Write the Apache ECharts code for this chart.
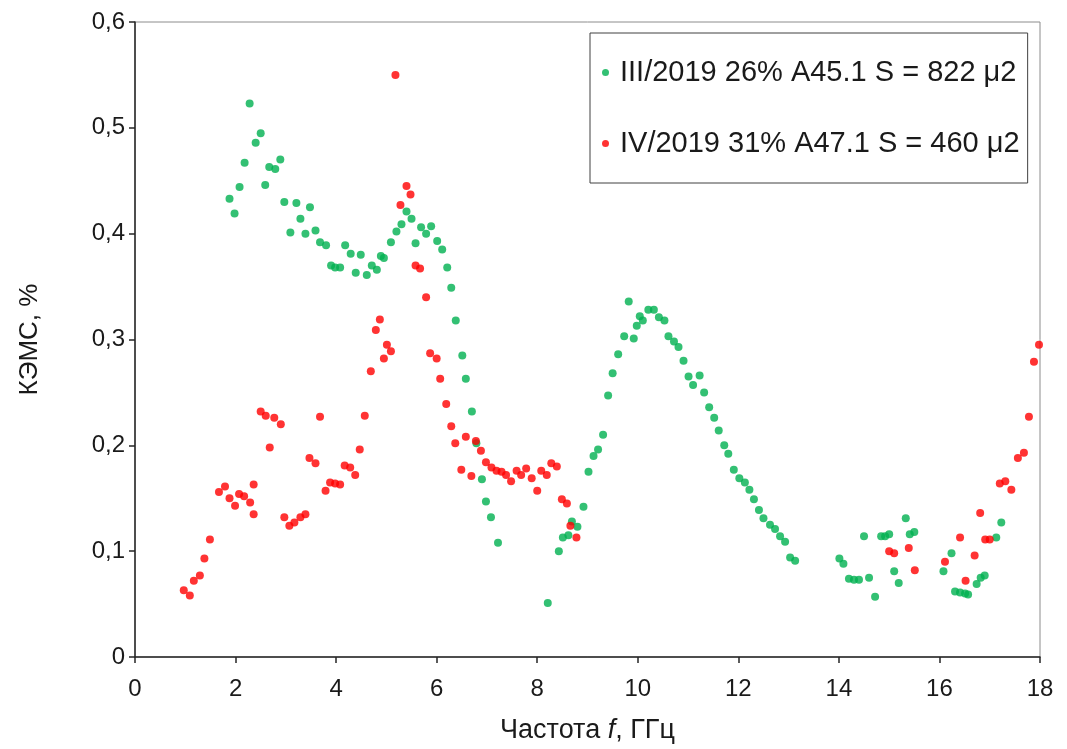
<!DOCTYPE html>
<html>
<head>
<meta charset="utf-8">
<title>КЭМС</title>
<script src="https://cdn.jsdelivr.net/npm/echarts@6/dist/echarts.min.js"></script>
<style>
  html, body { margin: 0; padding: 0; background: #fff; }
  #chart { width: 1067px; height: 749px; }
</style>
</head>
<body>
<div id="chart"></div>
<script>
// frequency, GHz / value, %
let greenX = [1.88, 1.98, 2.08, 2.18, 2.28, 2.40, 2.50, 2.59, 2.67, 2.79, 2.89, 2.97, 3.09, 3.21, 3.29, 3.39, 3.48, 3.59, 3.68, 3.80,
  3.90, 3.98, 4.08, 4.18, 4.29, 4.39, 4.49, 4.61, 4.71, 4.81, 4.89, 4.95, 5.09, 5.20, 5.30, 5.40, 5.50, 5.58, 5.69, 5.79,
  5.89, 6.01, 6.11, 6.21, 6.29, 6.38, 6.51, 6.58, 6.70, 6.79, 6.90, 6.98, 7.08, 7.22, 8.21, 8.43, 8.51, 8.62, 8.69, 8.80,
  8.92, 9.02, 9.12, 9.21, 9.31, 9.41, 9.50, 9.61, 9.73, 9.82, 9.92, 9.98, 10.04, 10.10, 10.21, 10.32, 10.42, 10.53, 10.61, 10.72,
  10.81, 10.91, 11.01, 11.10, 11.23, 11.32, 11.42, 11.52, 11.61, 11.72, 11.80, 11.91, 12.02, 12.13, 12.22, 12.31, 12.41, 12.50, 12.63, 12.73,
  12.83, 12.93, 13.03, 13.13, 14.01, 14.09, 14.20, 14.30, 14.40, 14.50, 14.60, 14.72, 14.84, 14.92, 15.00, 15.10, 15.19, 15.33, 15.41, 15.50,
  16.08, 16.24, 16.31, 16.41, 16.51, 16.57, 16.74, 16.82, 16.90, 17.13, 17.23];
let greenY = [0.433, 0.419, 0.444, 0.467, 0.523, 0.486, 0.495, 0.446, 0.463, 0.461, 0.470, 0.430, 0.401, 0.429, 0.414, 0.400, 0.425, 0.403, 0.392, 0.389,
  0.370, 0.368, 0.368, 0.389, 0.381, 0.363, 0.380, 0.361, 0.370, 0.366, 0.379, 0.377, 0.392, 0.402, 0.409, 0.421, 0.414, 0.391, 0.406, 0.400,
  0.407, 0.393, 0.385, 0.368, 0.349, 0.318, 0.285, 0.263, 0.232, 0.202, 0.168, 0.147, 0.132, 0.108, 0.051, 0.100, 0.113, 0.115, 0.128, 0.123,
  0.142, 0.175, 0.190, 0.196, 0.210, 0.247, 0.268, 0.286, 0.303, 0.336, 0.301, 0.313, 0.322, 0.318, 0.328, 0.328, 0.321, 0.318, 0.303, 0.298,
  0.293, 0.280, 0.265, 0.257, 0.266, 0.250, 0.236, 0.226, 0.214, 0.200, 0.192, 0.177, 0.169, 0.165, 0.158, 0.149, 0.139, 0.131, 0.125, 0.121,
  0.114, 0.109, 0.094, 0.091, 0.093, 0.088, 0.074, 0.073, 0.073, 0.114, 0.075, 0.057, 0.114, 0.114, 0.116, 0.081, 0.070, 0.131, 0.116, 0.118,
  0.081, 0.098, 0.062, 0.061, 0.060, 0.059, 0.069, 0.075, 0.077, 0.113, 0.127];

let redX = [0.97, 1.09, 1.17, 1.29, 1.38, 1.49, 1.67, 1.79, 1.88, 1.99, 2.07, 2.17, 2.29, 2.36, 2.36, 2.50, 2.60, 2.68, 2.77, 2.90,
  2.97, 3.07, 3.17, 3.29, 3.39, 3.47, 3.59, 3.68, 3.79, 3.88, 3.98, 4.08, 4.17, 4.28, 4.38, 4.47, 4.57, 4.69, 4.79, 4.87,
  4.95, 5.01, 5.09, 5.18, 5.28, 5.40, 5.48, 5.58, 5.67, 5.79, 5.87, 6.00, 6.07, 6.19, 6.29, 6.37, 6.49, 6.58, 6.69, 6.78,
  6.88, 6.98, 7.09, 7.19, 7.29, 7.38, 7.48, 7.59, 7.68, 7.78, 7.89, 8.00, 8.08, 8.19, 8.28, 8.39, 8.49, 8.59, 8.66, 8.78,
  15.00, 15.10, 15.39, 15.51, 16.11, 16.41, 16.52, 16.70, 16.81, 16.91, 17.00, 17.20, 17.31, 17.43, 17.56, 17.68, 17.78, 17.88, 17.98];
let redY = [0.063, 0.058, 0.072, 0.077, 0.093, 0.111, 0.156, 0.161, 0.150, 0.143, 0.154, 0.152, 0.146, 0.163, 0.135, 0.232, 0.228, 0.198, 0.226, 0.220,
  0.132, 0.124, 0.127, 0.132, 0.135, 0.188, 0.183, 0.227, 0.157, 0.165, 0.164, 0.163, 0.181, 0.179, 0.172, 0.196, 0.228, 0.270, 0.309, 0.319,
  0.282, 0.295, 0.289, 0.550, 0.427, 0.445, 0.437, 0.370, 0.367, 0.340, 0.287, 0.282, 0.263, 0.239, 0.218, 0.202, 0.177, 0.208, 0.171, 0.204,
  0.195, 0.184, 0.179, 0.176, 0.175, 0.172, 0.166, 0.176, 0.172, 0.178, 0.169, 0.157, 0.176, 0.172, 0.183, 0.180, 0.149, 0.145, 0.124, 0.113,
  0.100, 0.098, 0.103, 0.082, 0.090, 0.113, 0.072, 0.096, 0.136, 0.111, 0.111, 0.164, 0.166, 0.158, 0.188, 0.193, 0.227, 0.279, 0.295];

let seriesNames = ['III/2019 26% A45.1 S = 822 μ2', 'IV/2019 31% A47.1 S = 460 μ2'];
let seriesColors = ['#00b050', '#ff0000'];

function pairs (xs, ys) {
  let out = [];
  for (let i = 0; i < xs.length; i++) {
    out.push([xs[i], ys[i]]);
  }
  return out;
}

let FONT = '"Liberation Sans", Arial, sans-serif';
let AXIS_COLOR = '#262626';
let TEXT_COLOR = '#1a1a1a';

let chart = echarts.init(document.getElementById('chart'));
let option = {
  backgroundColor: '#fff',
  animation: false,
  textStyle: { fontFamily: FONT },
  grid: {
    left: 135,
    right: 27,
    top: 22,
    bottom: 89,
    show: true,
    borderColor: '#8c8c8c',
    borderWidth: 1
  },
  legend: {
    orient: 'vertical',
    left: 590,
    top: 33,
    padding: [25, 8, 25, 12],
    itemGap: 42,
    itemWidth: 7,
    itemHeight: 7,
    borderColor: '#404040',
    borderWidth: 1,
    icon: 'circle',
    textStyle: { fontSize: 29, color: TEXT_COLOR, fontFamily: FONT, lineHeight: 28, padding: [0, 0, 0, 6] },
    data: seriesNames
  },
  xAxis: {
    type: 'value',
    min: 0,
    max: 18,
    interval: 2,
    name: '{a|Частота }{i|f}{a|, ГГц}',
    nameLocation: 'middle',
    nameGap: 60,
    nameTextStyle: {
      rich: {
        a: { fontSize: 27, color: TEXT_COLOR, fontFamily: FONT },
        i: { fontSize: 27, color: TEXT_COLOR, fontFamily: FONT, fontStyle: 'italic' }
      }
    },
    axisLine: { onZero: false, lineStyle: { color: AXIS_COLOR, width: 1.5 } },
    axisTick: { show: true, inside: false, length: 6, lineStyle: { color: AXIS_COLOR, width: 1.5 } },
    axisLabel: { fontSize: 24, color: TEXT_COLOR, margin: 20 },
    splitLine: { show: false }
  },
  yAxis: {
    type: 'value',
    min: 0,
    max: 0.6,
    interval: 0.1,
    name: 'КЭМС, %',
    nameLocation: 'middle',
    nameGap: 92,
    nameTextStyle: { fontSize: 26, color: TEXT_COLOR },
    axisLine: { onZero: false, lineStyle: { color: AXIS_COLOR, width: 1.5 } },
    axisTick: { show: true, inside: false, length: 6, lineStyle: { color: AXIS_COLOR, width: 1.5 } },
    axisLabel: {
      fontSize: 24,
      color: TEXT_COLOR,
      margin: 10,
      formatter: function (v) {
        return v === 0 ? '0' : v.toFixed(1).replace('.', ',');
      }
    },
    splitLine: { show: false }
  },
  series: [
    {
      name: seriesNames[0],
      type: 'scatter',
      symbolSize: 8,
      itemStyle: { color: seriesColors[0] },
      data: pairs(greenX, greenY)
    },
    {
      name: seriesNames[1],
      type: 'scatter',
      symbolSize: 8,
      itemStyle: { color: seriesColors[1] },
      data: pairs(redX, redY)
    }
  ]
};
chart.setOption(option);
</script>
</body>
</html>
